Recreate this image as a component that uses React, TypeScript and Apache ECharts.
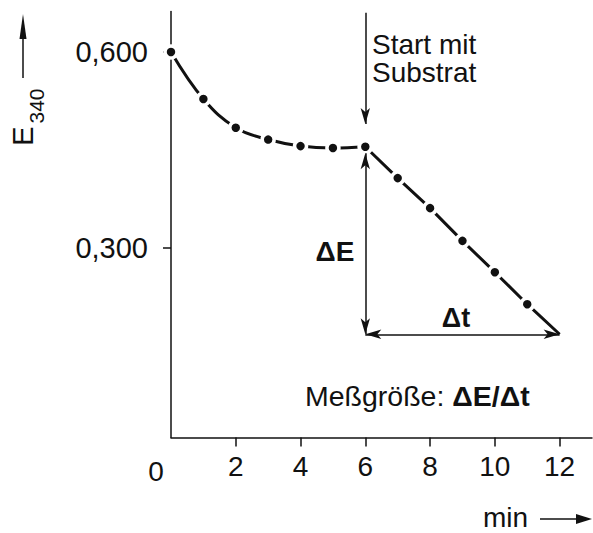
import React, { useEffect, useRef } from 'react';
import * as echarts from 'echarts';

// Data
const minutes = [0, 1, 2, 3, 4, 5, 6, 7, 8, 9, 10, 11, 12];
const extinction = [0.6, 0.528, 0.484, 0.466, 0.456, 0.453, 0.455, 0.407, 0.361, 0.311, 0.263, 0.214, 0.168];
const xTickValues = [2, 4, 6, 8, 10, 12];
const yTickValues = [0.3, 0.6];
const startIndex = 6; // substrate added at 6 min
const endIndex = 12;
const startArrowTop = 0.66;
const startArrowTip = 0.49;
const deltaETop = 0.445;

const FONT = '"Liberation Sans", Arial, Helvetica, sans-serif';
const INK = '#111';

export default function App() {
  const ref = useRef<HTMLDivElement>(null);
  useEffect(() => {
    if (!ref.current) return;
    const chart = echarts.init(ref.current, undefined, { renderer: 'svg' });
    const pts = minutes.map((m, i) => [m, extinction[i]]);
    const before = pts.slice(0, startIndex + 1);
    const after = pts.slice(startIndex).map((p, i, arr) =>
      i === arr.length - 1 ? { value: p, symbol: 'none' } : { value: p }
    );
    const tStart = minutes[startIndex];
    const tEnd = minutes[endIndex];
    const eEnd = extinction[endIndex];
    const symbolStyle = { color: INK, borderColor: '#fff', borderWidth: 3.5 };
    const lineStyle = { color: INK, width: 3 };
    chart.setOption({
      animation: false,
      grid: { left: 171, right: 1, top: 11.5, bottom: 95.5 },
      xAxis: {
        type: 'value',
        min: 0,
        max: 13,
        axisLine: { onZero: false, lineStyle: { color: INK, width: 1.5 } },
        axisTick: { customValues: xTickValues, length: 9, lineStyle: { color: INK, width: 1.5 } },
        axisLabel: {
          customValues: xTickValues,
          color: INK,
          fontSize: 28,
          fontFamily: FONT,
          margin: 15,
        },
        splitLine: { show: false },
      },
      yAxis: {
        type: 'value',
        min: 0.01,
        max: 0.662,
        axisLine: { show: true, lineStyle: { color: INK, width: 1.5 } },
        axisTick: { show: true, customValues: yTickValues, length: 8, lineStyle: { color: INK, width: 1.5 } },
        axisLabel: {
          customValues: yTickValues,
          color: INK,
          fontSize: 29,
          fontFamily: FONT,
          margin: 23,
          formatter: (v: number) => v.toFixed(3).replace('.', ','),
        },
        splitLine: { show: false },
      },
      series: [
        {
          type: 'line',
          data: before,
          smooth: 0.4,
          symbol: 'circle',
          symbolSize: 12,
          itemStyle: symbolStyle,
          lineStyle,
          silent: true,
          z: 3,
        },
        {
          type: 'line',
          data: after,
          symbol: 'circle',
          symbolSize: 12,
          itemStyle: symbolStyle,
          lineStyle,
          silent: true,
          z: 3,
          markLine: {
            silent: true,
            symbol: ['arrow', 'arrow'],
            symbolSize: [7, 16],
            label: { show: false },
            lineStyle: { color: INK, width: 1.5, type: 'solid' },
            data: [
              [{ coord: [tStart, deltaETop] }, { coord: [tStart, eEnd] }],
              [{ coord: [tStart, eEnd] }, { coord: [tEnd, eEnd] }],
              [
                { coord: [tStart, startArrowTop], symbol: 'none' },
                { coord: [tStart, startArrowTip], symbol: 'arrow' },
              ],
            ],
          },
        },
      ],
      graphic: [
        { type: 'text', x: 156, y: 471, style: { text: '0', fontSize: 28, fontFamily: FONT, fill: INK, align: 'center', verticalAlign: 'middle' } },
        { type: 'text', x: 23, y: 136, rotation: Math.PI / 2, style: { text: 'E', fontSize: 29, fontFamily: FONT, fill: INK, align: 'center', verticalAlign: 'middle' } },
        { type: 'text', x: 36, y: 106, rotation: Math.PI / 2, style: { text: '340', fontSize: 21, fontFamily: FONT, fill: INK, align: 'center', verticalAlign: 'middle' } },
        { type: 'line', shape: { x1: 23, y1: 78, x2: 23, y2: 36 }, style: { stroke: INK, lineWidth: 1.5 } },
        { type: 'polygon', shape: { points: [[23, 14], [19.5, 39], [26.5, 39]] }, style: { fill: INK } },
        { type: 'text', x: 372, y: 44, style: { text: 'Start mit', fontSize: 28, fontFamily: FONT, fill: INK, align: 'left', verticalAlign: 'middle' } },
        { type: 'text', x: 372, y: 72, style: { text: 'Substrat', fontSize: 28, fontFamily: FONT, fill: INK, align: 'left', verticalAlign: 'middle' } },
        { type: 'text', x: 335, y: 251, style: { text: 'ΔE', fontSize: 28, fontWeight: 'bold', fontFamily: FONT, fill: INK, align: 'center', verticalAlign: 'middle' } },
        { type: 'text', x: 456, y: 318, style: { text: 'Δt', fontSize: 27, fontWeight: 'bold', fontFamily: FONT, fill: INK, align: 'center', verticalAlign: 'middle' } },
        {
          type: 'text',
          x: 305,
          y: 396,
          style: {
            text: '{n|Meßgröße: }{b|ΔE/Δt}',
            fontFamily: FONT,
            fill: INK,
            align: 'left',
            verticalAlign: 'middle',
            rich: {
              n: { fontSize: 28.5, fontFamily: FONT, fill: INK },
              b: { fontSize: 28.5, fontFamily: FONT, fontWeight: 'bold', fill: INK },
            },
          },
        },
        { type: 'text', x: 483, y: 517, style: { text: 'min', fontSize: 28, fontFamily: FONT, fill: INK, align: 'left', verticalAlign: 'middle' } },
        { type: 'line', shape: { x1: 540, y1: 519, x2: 580, y2: 519 }, style: { stroke: INK, lineWidth: 1.5 } },
        { type: 'polygon', shape: { points: [[576, 514], [592, 519], [576, 524]] }, style: { fill: INK } },
      ],
    });
    return () => chart.dispose();
  }, []);
  return (
    <div
      ref={ref}
      style={{ position: 'fixed', left: 0, top: 0, width: 593, height: 533, background: '#fff' }}
    />
  );
}
